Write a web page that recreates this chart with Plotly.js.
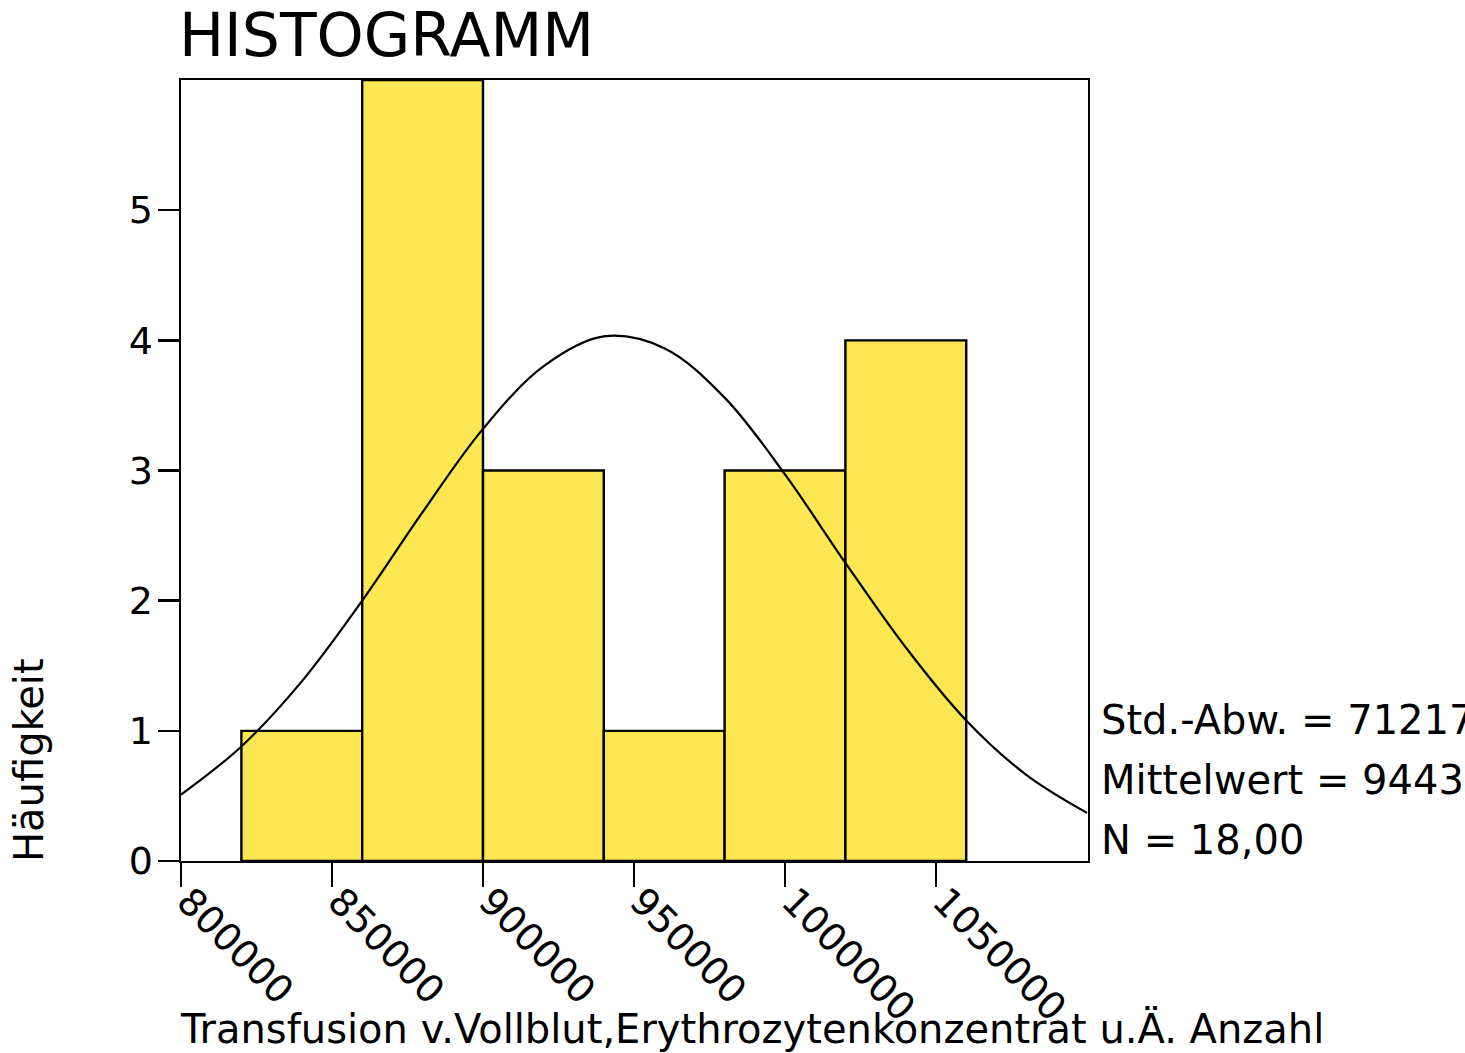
<!DOCTYPE html>
<html>
<head>
<meta charset="utf-8">
<script src="https://cdn.plot.ly/plotly-3.0.1.min.js"></script>
<style>html,body{margin:0;padding:0;background:#fff;overflow:hidden;}#chart{width:1465px;height:1053px;}</style>
</head>
<body>
<div id="chart"></div>
<script>
// Histogram bins (centres) and counts
const binCenters = [840000, 880000, 920000, 960000, 1000000, 1040000];
const binCounts = [1, 6, 3, 1, 3, 4];
const binWidth = 40000;

// Fitted normal curve
const curveX = [800000, 820000, 840000, 860000, 880000, 900000, 920000, 940000, 960000, 980000, 1000000, 1020000, 1040000, 1060000, 1080000, 1100000];
const curveY = [0.51, 0.88, 1.38, 2.00, 2.68, 3.32, 3.80, 4.03, 3.94, 3.56, 2.97, 2.29, 1.64, 1.08, 0.66, 0.37];

const xTickVals = [800000, 850000, 900000, 950000, 1000000, 1050000];
const xTickText = ["800000", "850000", "900000", "950000", "1000000", "1050000"];
const yTickVals = [0, 1, 2, 3, 4, 5];
const yTickText = ["0", "1", "2", "3", "4", "5"];

const statLines = ["Std.-Abw. = 71217,26", "Mittelwert = 944333,3", "N = 18,00"];
const titleText = "HISTOGRAMM";
const xTitle = "Transfusion v.Vollblut,Erythrozytenkonzentrat u.Ä. Anzahl";
const yTitle = "Häufigkeit";

const FONT = "DejaVu Sans, sans-serif";
const L = 181, R = 1088, T = 80, B = 861;
const px = x => (x - L) / (R - L);
const py = y => (B - y) / (B - T);

const traces = [
  {
    type: 'bar', x: binCenters, y: binCounts,
    width: binCenters.map(() => binWidth),
    marker: {color: '#FBE751', line: {color: '#000', width: 2.4}},
    hoverinfo: 'skip'
  },
  {
    type: 'scatter', mode: 'lines', x: curveX, y: curveY,
    line: {color: '#000', width: 2.2, shape: 'spline', smoothing: 1},
    hoverinfo: 'skip'
  }
];

const annotations = [
  {text: titleText, xref: 'paper', yref: 'paper', x: px(177), y: py(35), xanchor: 'left', yanchor: 'middle', showarrow: false, font: {family: FONT, size: 60, color: '#000'}},
  {text: xTitle, xref: 'paper', yref: 'paper', x: px(178), y: py(1028), xanchor: 'left', yanchor: 'middle', showarrow: false, font: {family: FONT, size: 40, color: '#000'}},
  {text: yTitle, xref: 'paper', yref: 'paper', x: px(29), y: py(760), xanchor: 'center', yanchor: 'middle', textangle: -90, showarrow: false, font: {family: FONT, size: 40, color: '#000'}}
];
const statY = [720, 780, 840];
statLines.forEach((t, i) => {
  annotations.push({text: t, xref: 'paper', yref: 'paper', x: px(1099), y: py(statY[i]), xanchor: 'left', yanchor: 'middle', showarrow: false, font: {family: FONT, size: 40, color: '#000'}});
});
// rotated x tick labels placed just under the tick marks
xTickVals.forEach((v, i) => {
  annotations.push({text: xTickText[i], xref: 'x', yref: 'paper', x: v, y: py(876), xshift: -15, xanchor: 'left', yanchor: 'top', textangle: 45, showarrow: false, font: {family: FONT, size: 38, color: '#000'}});
});

const layout = {
  width: 1465, height: 1053,
  margin: {l: L, r: 1465 - R, t: T, b: 1053 - B, pad: 0},
  paper_bgcolor: '#fff', plot_bgcolor: '#fff',
  showlegend: false,
  bargap: 0,
  font: {family: FONT, size: 40, color: '#000'},
  xaxis: {
    range: [800000, 1100330], tickvals: xTickVals, ticktext: xTickText, showticklabels: false,
    ticks: 'outside', ticklen: 24, tickwidth: 2.4, tickcolor: '#000',
    showline: true, linecolor: '#000', linewidth: 2.4, mirror: true,
    showgrid: false, zeroline: false
  },
  yaxis: {
    range: [0, 6], tickvals: yTickVals, ticktext: yTickText,
    ticks: 'outside', ticklen: 21, tickwidth: 2.4, tickcolor: '#000', ticklabelstandoff: -3,
    showline: true, linecolor: '#000', linewidth: 2.4, mirror: true,
    showgrid: false, zeroline: false, tickfont: {family: FONT, size: 38, color: '#000'}
  },
  annotations: annotations
};

Plotly.newPlot('chart', traces, layout, {staticPlot: true, displayModeBar: false});
</script>
</body>
</html>
